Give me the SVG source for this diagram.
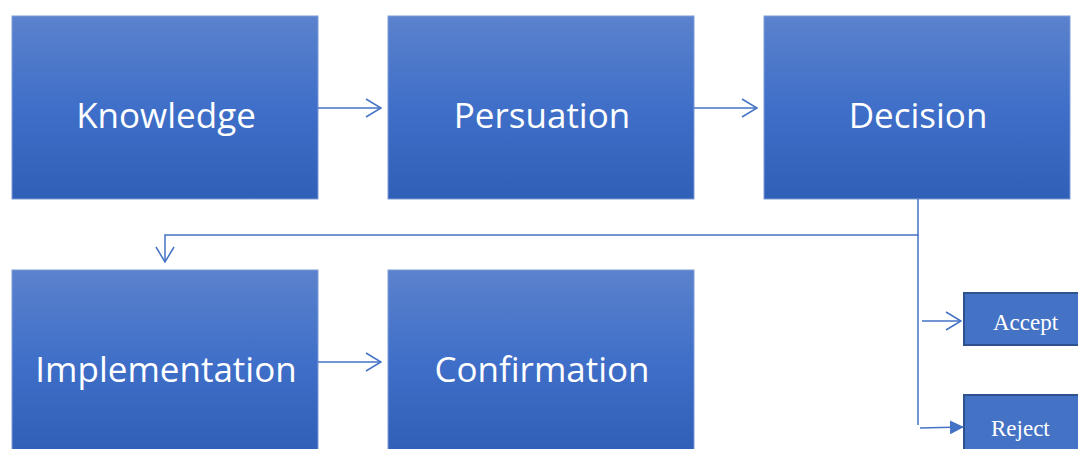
<svg xmlns="http://www.w3.org/2000/svg" width="1078" height="449" viewBox="0 0 1078 449">
<defs>
<linearGradient id="g" x1="0" y1="0" x2="0" y2="1">
<stop offset="0" stop-color="#5b82cd"/>
<stop offset="0.5" stop-color="#3f6fc8"/>
<stop offset="1" stop-color="#2f5fb6"/>
</linearGradient>
<marker id="open" viewBox="0 0 17 20" refX="16" refY="10" markerWidth="17" markerHeight="20" markerUnits="userSpaceOnUse" orient="auto">
<path d="M1,1 L16,10 L1,19" fill="none" stroke="#4472c4" stroke-width="1.5"/>
</marker>
<marker id="fill" viewBox="0 0 14 14" refX="13" refY="7" markerWidth="14" markerHeight="14" markerUnits="userSpaceOnUse" orient="auto">
<path d="M0,0 L14,7 L0,14 Z" fill="#4472c4"/>
</marker>
</defs>
<style>
.big{fill:url(#g);stroke:#7f9bd6;stroke-width:1}
.bt{font-family:"Open Sans","Noto Sans",sans-serif;font-size:35px;fill:#ffffff;text-anchor:middle}
.small{fill:#4472c4;stroke:#2f528f;stroke-width:2}
.st{font-family:"Liberation Serif","Times New Roman",serif;font-size:23px;fill:#ffffff}
.c{fill:none;stroke:#4472c4;stroke-width:1.5}
</style>
<rect width="1078" height="449" fill="#ffffff"/>
<g id="knowledge"><rect class="big" x="12" y="16" width="306" height="183"/><text class="bt" x="166" y="128">Knowledge</text></g>
<g id="persuation"><rect class="big" x="388" y="16" width="306" height="183"/><text class="bt" x="542" y="128">Persuation</text></g>
<g id="decision"><rect class="big" x="764" y="16" width="306" height="183"/><text class="bt" x="918" y="128">Decision</text></g>
<g id="implementation"><rect class="big" x="12" y="270" width="306" height="183"/><text class="bt" x="166" y="382">Implementation</text></g>
<g id="confirmation"><rect class="big" x="388" y="270" width="306" height="183"/><text class="bt" x="542" y="382">Confirmation</text></g>
<g id="accept"><rect class="small" x="964" y="293" width="120" height="52"/><text class="st" x="993" y="330">Accept</text></g>
<g id="reject"><rect class="small" x="964" y="395" width="120" height="60"/><text class="st" x="991" y="436">Reject</text></g>
<g id="connectors">
<path class="c" d="M318,108 H381" marker-end="url(#open)"/>
<path class="c" d="M694,108 H757" marker-end="url(#open)"/>
<path class="c" d="M318,362 H381" marker-end="url(#open)"/>
<path class="c" d="M918,199 V235 H165 V262" marker-end="url(#open)"/>
<path class="c" d="M918,235 V425"/>
<path class="c" d="M922,321 H961" marker-end="url(#open)"/>
<path class="c" d="M920,428 L963,427" marker-end="url(#fill)"/>
</g>
</svg>
